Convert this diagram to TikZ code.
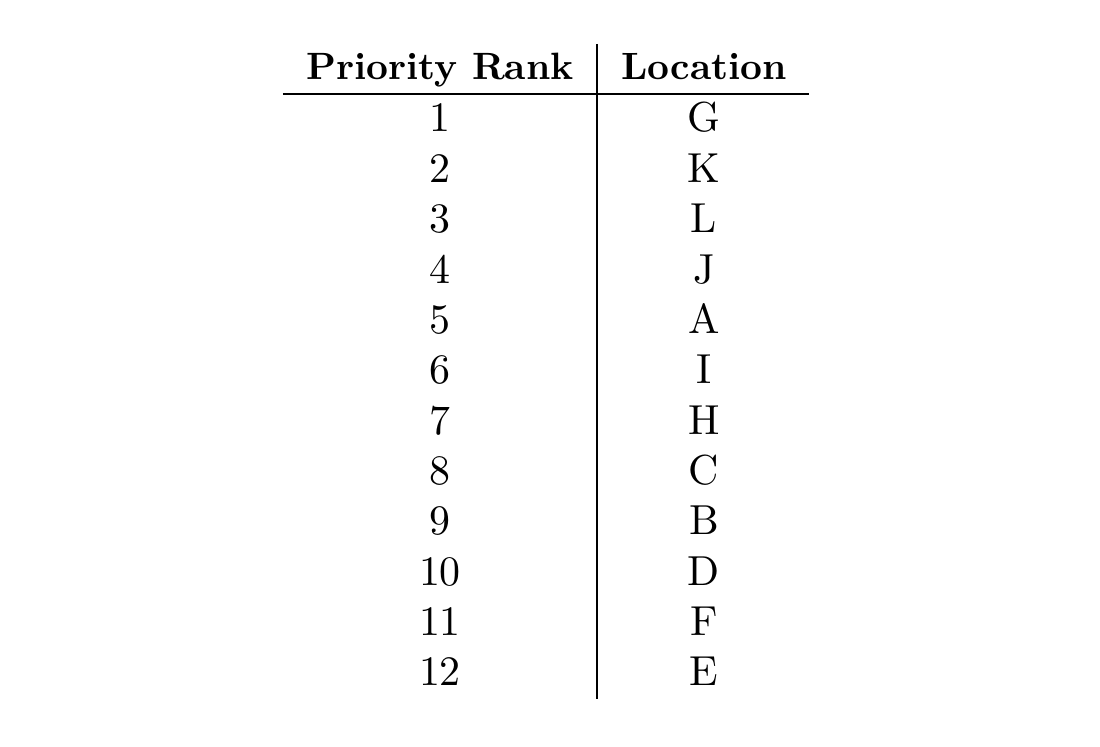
\documentclass[tikz,border=0pt]{standalone}
\begin{document}
\begin{tikzpicture}[x=0.26pt,y=-0.26pt,
  cell/.style={anchor=base,inner sep=0pt,font=\fontsize{10.9}{13}\selectfont},
  head/.style={cell,font=\fontsize{9.9}{12}\selectfont\bfseries},
  rule/.style={line width=0.4pt}]
\useasboundingbox (0,0) rectangle (1100,747);
\node[head] (h1) at (440,80) {Priority Rank};
\node[head] (h2) at (704,80) {Location};
\foreach \r/\l [count=\i] in {1/G,2/K,3/L,4/J,5/A,6/I,7/H,8/C,9/B,10/D,11/F,12/E}{
  \node[cell] (r\i) at (440,{132+(\i-1)*50.36}) {\r};
  \node[cell] (l\i) at (704,{132+(\i-1)*50.36}) {\l};
}
\coordinate (vt) at (597,44);
\coordinate (vb) at (597,699);
\coordinate (hl) at (283,94);
\coordinate (hr) at (809,94);
\draw[rule] (vt) -- (vb);
\draw[rule] (hl) -- (hr);
\end{tikzpicture}
\end{document}
